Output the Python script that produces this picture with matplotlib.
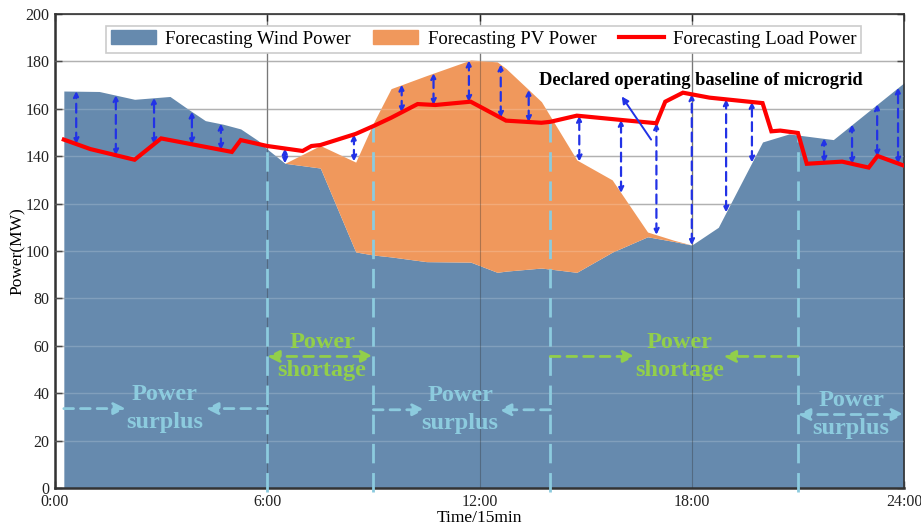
import numpy as np
import matplotlib
matplotlib.use("Agg")
import matplotlib.pyplot as plt
from matplotlib.patches import Patch
from matplotlib.lines import Line2D

plt.rcParams['font.family'] = ['Liberation Serif', 'DejaVu Serif']

# generation profile, hours of the day
gen_hours = [0.25, 1.25, 2.25, 3.25, 3.75, 4.25, 4.75, 5.25, 5.75, 6.0, 6.5, 7.5,
             8.5, 9.0, 9.5, 10.5, 11.75, 12.5, 12.75, 13.75, 14.75, 15.75, 16.75,
             17.5, 18.0, 18.75, 20.0, 20.75, 22.0, 24.0]
wind_mw = [167.5, 167.3, 164.0, 165.2, 160.0, 155.0, 153.5, 151.5, 146.5, 143.0, 137.0, 135.0,
           99.6, 98.3, 97.5, 95.5, 95.3, 91.0, 91.5, 92.8, 91.0, 99.5, 106.0,
           104.0, 102.5, 110.0, 146.0, 149.4, 147.0, 171.0]
pv_mw = [0, 0, 0, 0, 0, 0, 0, 0, 0, 0, 0, 9.5,
         37.9, 55.7, 71.0, 78.5, 85.3, 88.8, 85.5, 70.2, 47.4, 30.5, 2.0,
         0.5, 0, 0, 0, 0, 0, 0]

# load forecast
load_hours = [0.25, 1.0, 2.25, 3.0, 5.0, 5.25, 6.0, 7.0, 7.25, 7.5, 8.5, 9.0, 9.5, 10.25,
              10.75, 11.75, 12.75, 13.75, 14.0, 14.75, 16.0, 17.0, 17.25, 17.75, 18.5,
              20.0, 20.25, 20.5, 21.0, 21.25, 22.25, 23.0, 23.25, 24.0]
load_mw = [147.0, 143.0, 138.5, 147.5, 141.8, 146.8, 144.3, 142.2, 144.3, 144.7, 149.4, 152.7,
           156.2, 162.0, 161.6, 163.0, 155.0, 154.1, 154.5, 157.1, 155.3, 153.9, 163.0, 166.8,
           164.7, 162.4, 150.5, 150.8, 149.8, 136.8, 137.7, 135.2, 140.1, 136.0]

# where the gap between generation and load is marked
gap_hours = [0.6, 1.72, 2.8, 3.87, 4.69, 6.5, 8.45, 9.8, 10.7, 11.7, 12.6, 13.39,
             14.82, 16.0, 17.0, 18.0, 18.97, 19.7, 21.74, 22.53, 23.24, 23.83]

# boundaries between surplus and shortage periods
split_hours = [6, 9, 14, 21]

xtick_hours = [0, 6, 12, 18, 24]
xtick_labels = ['0:00', '6:00', '12:00', '18:00', '24:00']

wind_color = '#668aae'
pv_color = '#f0985c'
load_color = '#ff0000'
arrow_color = '#2232e6'
surplus_color = '#8ccbde'
shortage_color = '#92cf4a'

gen_hours = np.array(gen_hours)
wind_mw = np.array(wind_mw)
total_mw = wind_mw + np.array(pv_mw)

fig = plt.figure(figsize=(9.21, 5.28), dpi=100)
ax = fig.add_axes([0.0597, 0.0758, 0.9219, 0.8977])

ax.set_axisbelow(True)
ax.grid(True, color='#a0a0a0', lw=1.0)

ax.fill_between(gen_hours, 0, wind_mw, color=wind_color, lw=0, zorder=2)
ax.fill_between(gen_hours, wind_mw, total_mw, color=pv_color, lw=0, zorder=2)

# faint grid over the filled areas
for y in range(20, 200, 20):
    ax.axhline(y, color='white', alpha=0.18, lw=1.0, zorder=3)
for x in xtick_hours[1:-1]:
    ax.axvline(x, color='#303030', alpha=0.35, lw=0.8, zorder=3)

ax.plot(load_hours, load_mw, color=load_color, lw=3, zorder=6, solid_joinstyle='miter')

# double arrows between load and generation
for h in gap_hours:
    g = np.interp(h, gen_hours, total_mw)
    l = np.interp(h, load_hours, load_mw)
    ax.annotate('', xy=(h, max(g, l)), xytext=(h, min(g, l)),
                arrowprops=dict(arrowstyle='<|-|>', color=arrow_color, lw=1.6,
                                linestyle=(0, (4, 2.5)), mutation_scale=8,
                                shrinkA=0, shrinkB=0), zorder=5)

# period boundaries
for h in split_hours:
    top = np.interp(h, load_hours, load_mw)
    ax.plot([h, h], [-1.5, top], color=surplus_color, lw=2, dashes=(7, 3.5),
            zorder=4, clip_on=False)


def region_arrow(x0, x1, y, color):
    ax.annotate('', xy=(x1, y), xytext=(x0, y),
                arrowprops=dict(arrowstyle='-|>', color=color, lw=2,
                                linestyle=(0, (3.5, 2.5)), mutation_scale=18,
                                shrinkA=0, shrinkB=0), zorder=5)


def double_arrow(x0, x1, y, color):
    ax.annotate('', xy=(x1, y), xytext=(x0, y),
                arrowprops=dict(arrowstyle='<|-|>', color=color, lw=2,
                                linestyle=(0, (3.5, 2.5)), mutation_scale=18,
                                shrinkA=0, shrinkB=0), zorder=5)


def region_text(x, y, text, color):
    ax.text(x, y, text, color=color, fontsize=17.5, fontweight='bold',
            ha='center', va='center', linespacing=1.42, zorder=6)


region_arrow(0.25, 2.0, 33.5, surplus_color)
region_arrow(6.0, 4.27, 33.5, surplus_color)
region_text(3.1, 33.5, 'Power\nsurplus', surplus_color)

double_arrow(6.0, 9.0, 55.5, shortage_color)
region_text(7.55, 55.5, 'Power\nshortage', shortage_color)

region_arrow(9.0, 10.45, 33.0, surplus_color)
region_arrow(14.0, 12.55, 33.0, surplus_color)
region_text(11.45, 33.0, 'Power\nsurplus', surplus_color)

region_arrow(14.0, 16.4, 55.5, shortage_color)
region_arrow(21.0, 18.9, 55.5, shortage_color)
region_text(17.65, 55.5, 'Power\nshortage', shortage_color)

double_arrow(21.0, 24.0, 31.0, surplus_color)
region_text(22.5, 31.0, 'Power\nsurplus', surplus_color)

ax.text(13.67, 172, 'Declared operating baseline of microgrid', fontsize=13.3,
        fontweight='bold', ha='left', va='center', zorder=7)
ax.annotate('', xy=(16.02, 165.2), xytext=(16.85, 147),
            arrowprops=dict(arrowstyle='-|>', color=arrow_color, lw=1.4,
                            mutation_scale=10, shrinkA=0, shrinkB=0), zorder=7)

ax.set_xlim(0, 24)
ax.set_ylim(0, 200)
ax.set_xticks(xtick_hours)
ax.set_xticklabels(xtick_labels)
ax.set_yticks(range(0, 201, 20))
ax.tick_params(direction='in', top=True, right=True, length=5, width=1,
               labelsize=11.5, pad=4, colors='#222222')
for s in ax.spines.values():
    s.set_color('#333333')
    s.set_linewidth(1.2)
ax.spines['left'].set_linewidth(1.8)
ax.spines['bottom'].set_linewidth(1.8)

ax.set_xlabel('Time/15min', fontsize=12.5, labelpad=0)
ax.set_ylabel('Power(MW)', fontsize=12.5, labelpad=0)

handles = [Patch(color=wind_color, label='Forecasting Wind Power'),
           Patch(color=pv_color, label='Forecasting PV Power'),
           Line2D([], [], color=load_color, lw=3, label='Forecasting Load Power')]
leg = ax.legend(handles=handles, ncol=3, loc='upper center', bbox_to_anchor=(0.505, 0.995),
                fontsize=13.5, frameon=True, fancybox=False, edgecolor='#cccccc',
                framealpha=1, handlelength=2.4, handleheight=0.75, columnspacing=1.2,
                borderpad=0.25, handletextpad=0.5)
leg.get_frame().set_linewidth(1.2)
leg.set_zorder(10)

fig.savefig('out.png', dpi=100)
